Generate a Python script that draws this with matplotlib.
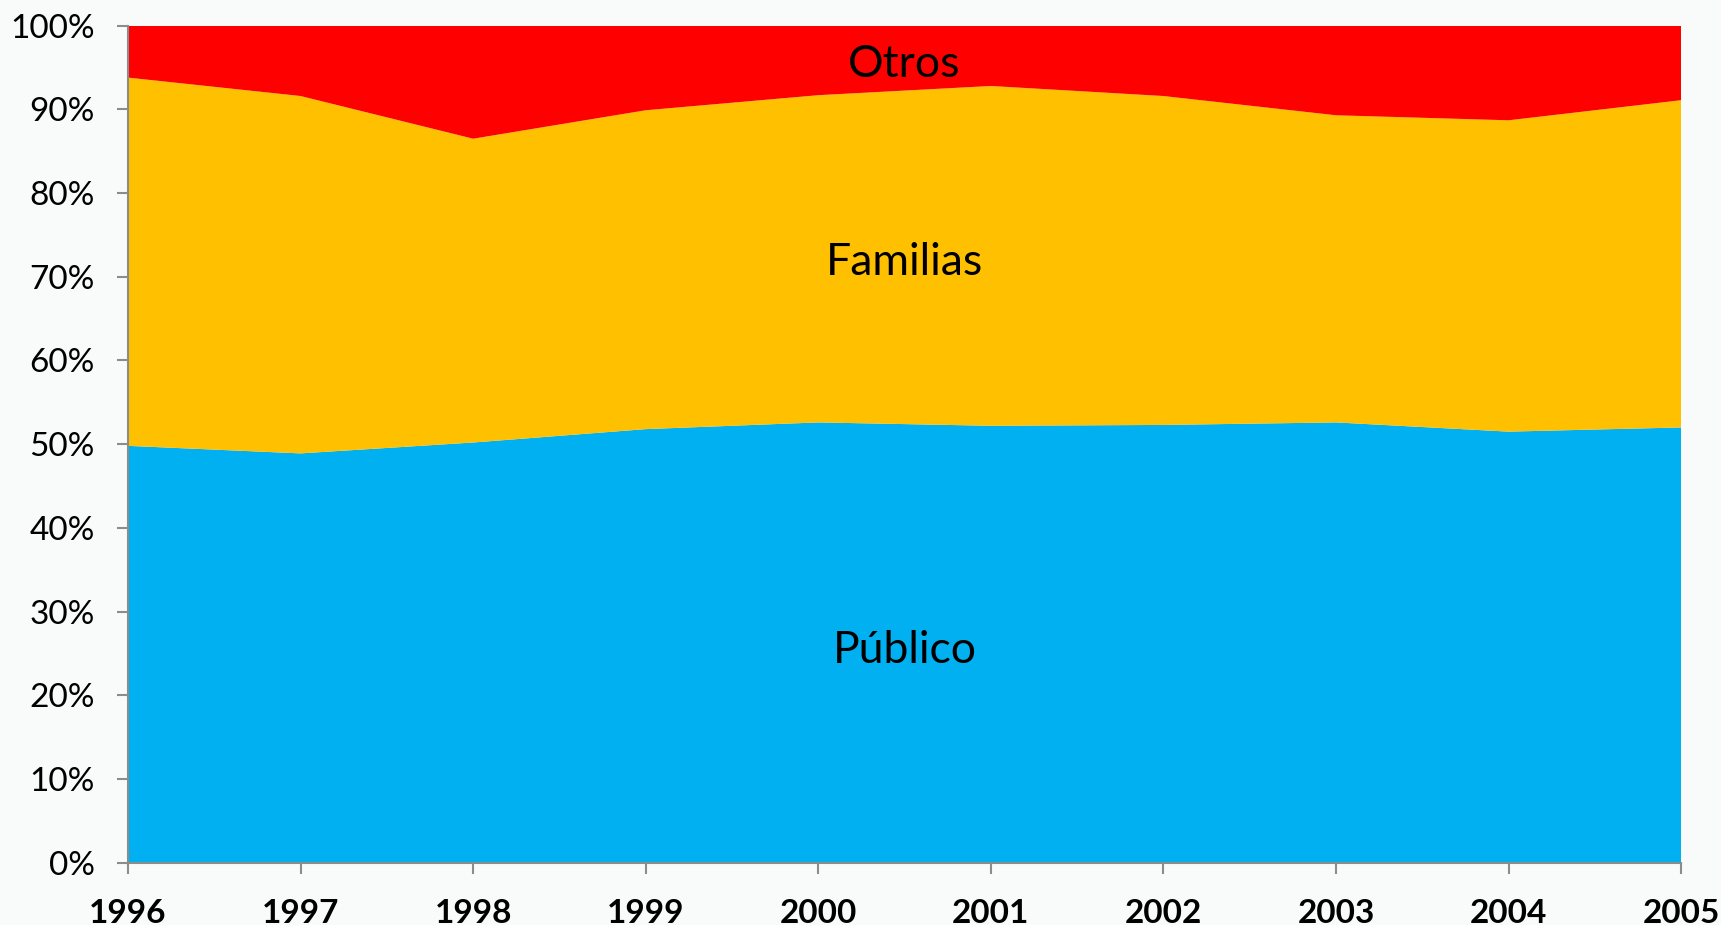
import numpy as np
import matplotlib.pyplot as plt
from matplotlib.ticker import PercentFormatter

plt.rcParams["font.family"] = ["Lato", "DejaVu Sans"]

# ---- data (share of total, %)
years = [1996, 1997, 1998, 1999, 2000, 2001, 2002, 2003, 2004, 2005]
publico = [49.8, 48.9, 50.2, 51.8, 52.6, 52.2, 52.3, 52.6, 51.5, 52.0]
familias = [44.0, 42.7, 36.3, 38.1, 39.1, 40.6, 39.3, 36.7, 37.2, 39.1]
otros = [6.2, 8.4, 13.5, 10.1, 8.3, 7.2, 8.4, 10.7, 11.3, 8.9]
series_names = ["Público", "Familias", "Otros"]
colors = ["#00B0F0", "#FFC000", "#FF0000"]

bg = "#f9fafa"
fig = plt.figure(figsize=(17.21, 9.25), dpi=100, facecolor=bg)
ax = fig.add_axes([0.0744, 0.0674, 0.9024, 0.9048], facecolor=bg)

ax.stackplot(years, publico, familias, otros, colors=colors, linewidth=0)

# labels inside the areas
ax.text(2000.5, 95.4, "Otros", ha="center", va="center", fontsize=32)
ax.text(2000.5, 71.7, "Familias", ha="center", va="center", fontsize=32)
ax.text(2000.5, 25.4, "Público", ha="center", va="center", fontsize=32)

ax.set_xlim(years[0], years[-1])
ax.set_ylim(0, 100)
ax.set_xticks(years)
ax.set_yticks(np.arange(0, 101, 10))
ax.yaxis.set_major_formatter(PercentFormatter(decimals=0))

for s in ["top", "right"]:
    ax.spines[s].set_visible(False)
for s in ["left", "bottom"]:
    ax.spines[s].set_color("#8c8c8c")
    ax.spines[s].set_linewidth(1.5)

ax.tick_params(axis="y", colors="#8c8c8c", labelcolor="black", length=8, width=1.5,
               labelsize=24, pad=16)
ax.tick_params(axis="x", colors="#8c8c8c", labelcolor="black", length=8, width=1.5,
               labelsize=24, pad=18)
for lbl in ax.get_xticklabels():
    lbl.set_fontweight("bold")

fig.savefig("out.png", dpi=100, facecolor=bg)
